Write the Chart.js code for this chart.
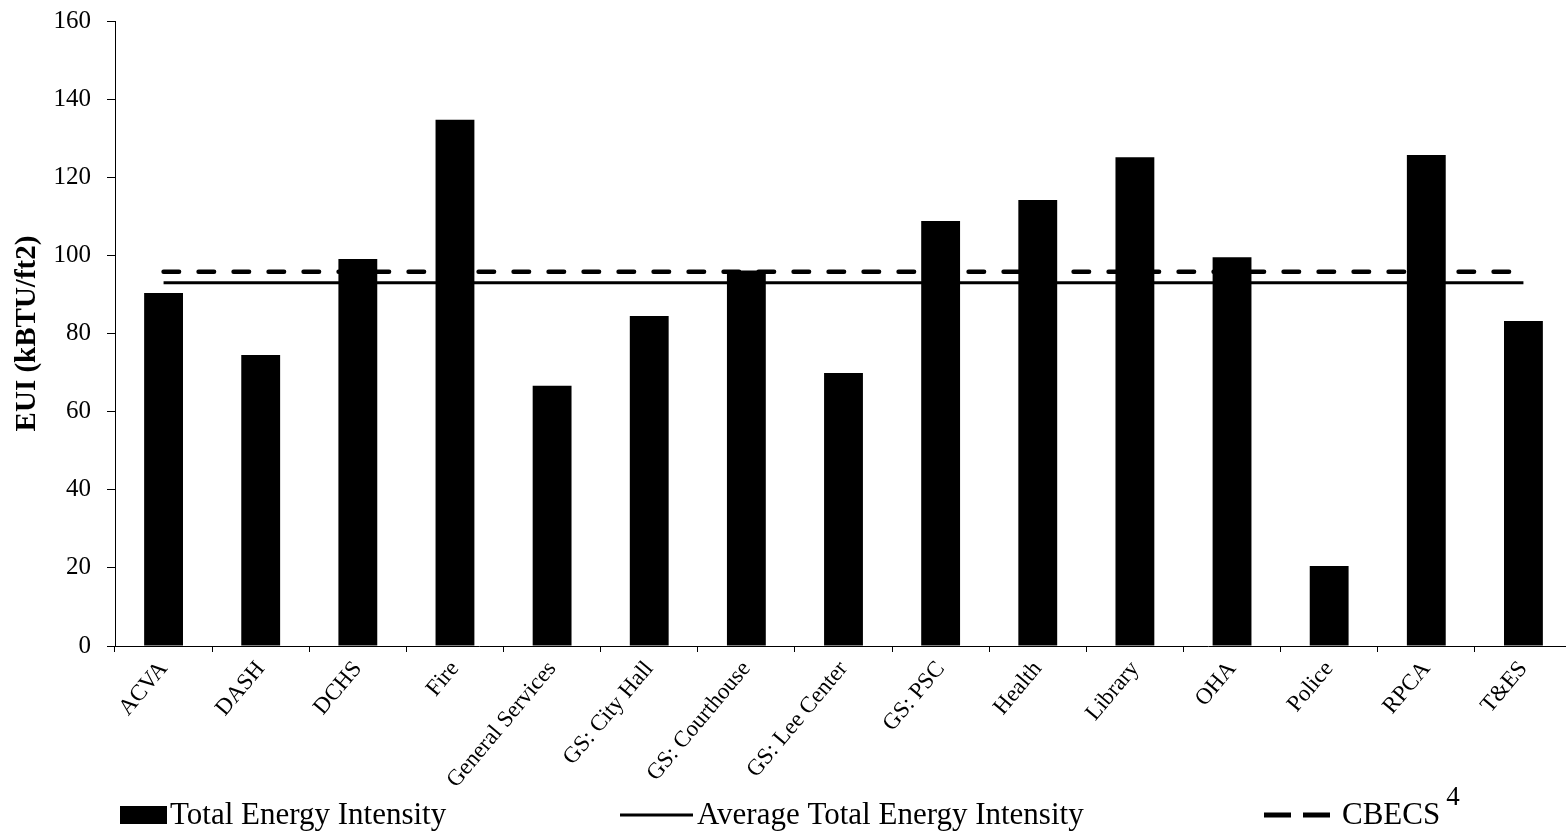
<!DOCTYPE html>
<html>
<head>
<meta charset="utf-8">
<script src="https://cdn.jsdelivr.net/npm/chart.js@4.4.1/dist/chart.umd.min.js"></script>
<style>
  html, body { margin: 0; padding: 0; background: #fff; overflow: hidden; }
  #wrap { width: 1572px; height: 834px; }
</style>
</head>
<body>
<div id="wrap"><canvas id="c" width="1572" height="834"></canvas></div>
<script>
const categories = ['ACVA', 'DASH', 'DCHS', 'Fire', 'General Services', 'GS: City Hall', 'GS: Courthouse', 'GS: Lee Center', 'GS: PSC', 'Health', 'Library', 'OHA', 'Police', 'RPCA', 'T&ES'];
const totalEnergyIntensity = [90.4, 74.5, 99.1, 134.7, 66.6, 84.5, 96.1, 69.9, 108.8, 114.2, 125.1, 99.5, 20.5, 125.7, 83.2];
const averageTotalEnergyIntensity = [93.0, 93.0, 93.0, 93.0, 93.0, 93.0, 93.0, 93.0, 93.0, 93.0, 93.0, 93.0, 93.0, 93.0, 93.0];
const cbecs = [95.8, 95.8, 95.8, 95.8, 95.8, 95.8, 95.8, 95.8, 95.8, 95.8, 95.8, 95.8, 95.8, 95.8, 95.8];
const yTickValues = [0, 20, 40, 60, 80, 100, 120, 140, 160];
const legendLabels = ['Total Energy Intensity', 'Average Total Energy Intensity', 'CBECS'];
const cbecsSuperscript = '4';

const SERIF = '"Liberation Serif", "Times New Roman", serif';

const legendPlugin = {
  id: 'customLegend',
  afterDraw(chart) {
    const ctx = chart.ctx;
    const ds = chart.data.datasets;
    const y = 815;
    ctx.save();
    ctx.font = '31px ' + SERIF;
    ctx.textBaseline = 'middle';
    ctx.textAlign = 'left';
    // item 1: filled box
    ctx.fillStyle = ds[0].backgroundColor;
    ctx.fillRect(120, y - 9, 47, 18);
    ctx.fillStyle = '#000';
    ctx.fillText(ds[0].label, 170, y + 1);
    // item 2: solid line
    ctx.strokeStyle = ds[1].borderColor;
    ctx.lineWidth = ds[1].borderWidth;
    ctx.beginPath();
    ctx.moveTo(620, y);
    ctx.lineTo(693, y);
    ctx.stroke();
    ctx.fillText(ds[1].label, 697, y + 1);
    // item 3: dashed line
    ctx.strokeStyle = ds[2].borderColor;
    ctx.lineWidth = 5;
    ctx.setLineDash([27, 12]);
    ctx.beginPath();
    ctx.moveTo(1264, y);
    ctx.lineTo(1332, y);
    ctx.stroke();
    ctx.setLineDash([]);
    ctx.fillText(ds[2].label, 1342, y + 1);
    const w = ctx.measureText(ds[2].label).width;
    ctx.font = '27px ' + SERIF;
    ctx.fillText(cbecsSuperscript, 1342 + w + 6, y - 17);
    ctx.restore();
  }
};

new Chart(document.getElementById('c'), {
  data: {
    labels: categories,
    datasets: [
      {
        type: 'bar',
        label: legendLabels[0],
        data: totalEnergyIntensity,
        backgroundColor: '#000',
        borderWidth: 0,
        categoryPercentage: 1.0,
        barPercentage: 0.4,
        order: 2
      },
      {
        type: 'line',
        label: legendLabels[1],
        data: averageTotalEnergyIntensity,
        borderColor: '#000',
        borderWidth: 3,
        pointRadius: 0,
        fill: false,
        order: 1
      },
      {
        type: 'line',
        label: legendLabels[2],
        data: cbecs,
        borderColor: '#000',
        borderWidth: 4.5,
        borderDash: [15.5, 19.5],
        borderCapStyle: 'round',
        pointRadius: 0,
        fill: false,
        order: 0
      }
    ]
  },
  options: {
    responsive: false,
    devicePixelRatio: 1,
    animation: false,
    layout: { padding: { top: 21, right: 0, bottom: 18, left: 0 } },
    plugins: {
      legend: { display: false },
      tooltip: { enabled: false },
      title: { display: false }
    },
    scales: {
      x: {
        type: 'category',
        offset: true,
        grid: {
          offset: true,
          drawOnChartArea: false,
          drawTicks: true,
          tickLength: 6,
          color: '#000',
          lineWidth: 1
        },
        border: { display: true, color: '#000', width: 1 },
        ticks: {
          color: '#000',
          font: { family: SERIF, size: 23 },
          minRotation: 50,
          maxRotation: 50,
          autoSkip: false,
          padding: 4
        },
        afterFit(scale) { scale.height = 170; }
      },
      y: {
        min: 0,
        max: 160,
        afterBuildTicks(scale) { scale.ticks = yTickValues.map(v => ({ value: v })); },
        grid: {
          drawOnChartArea: false,
          drawTicks: true,
          tickLength: 8,
          color: '#000',
          lineWidth: 1
        },
        border: { display: true, color: '#000', width: 1 },
        ticks: {
          color: '#000',
          font: { family: SERIF, size: 25 },
          padding: 16
        },
        title: {
          display: true,
          text: 'EUI (kBTU/ft2)',
          color: '#000',
          font: { family: SERIF, size: 29, weight: 'bold' },
          padding: { top: 10, bottom: 0 }
        },
        afterFit(scale) {
          scale.width = 115;
          scale.paddingTop = 0;
          scale.paddingBottom = 0;
        }
      }
    }
  },
  plugins: [legendPlugin]
});
</script>
</body>
</html>
